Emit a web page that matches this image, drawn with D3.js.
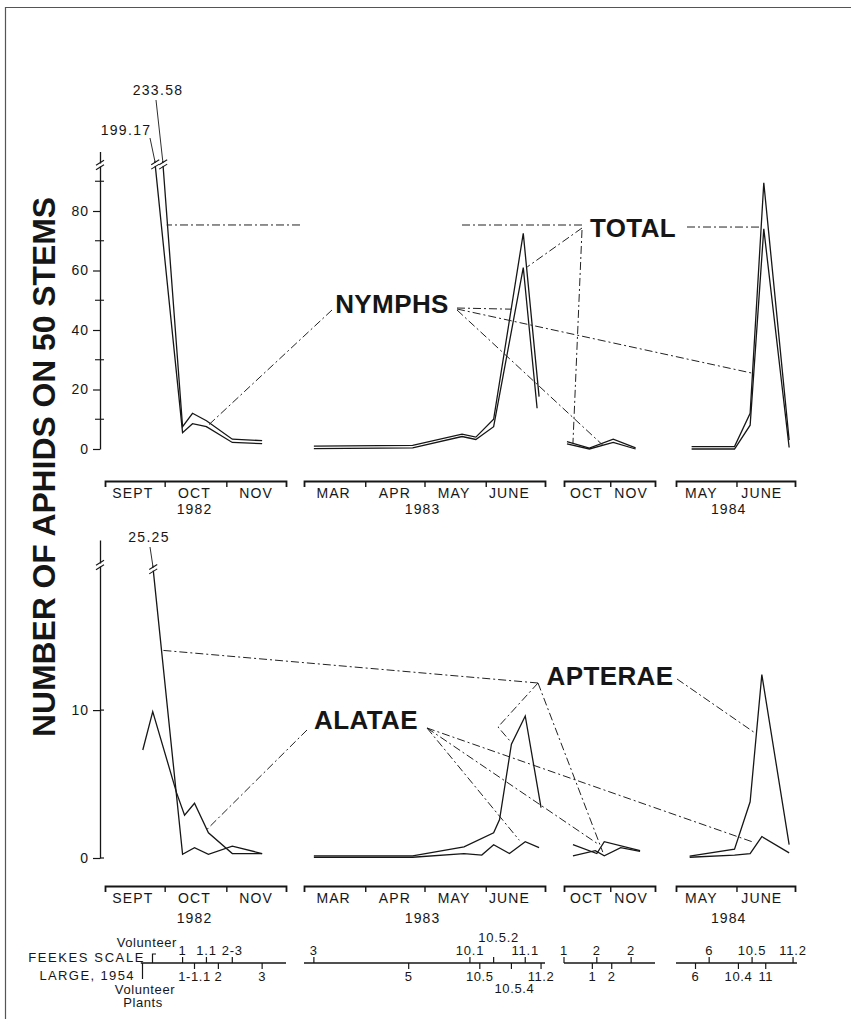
<!DOCTYPE html>
<html>
<head>
<meta charset="utf-8">
<script src="https://d3js.org/d3.v7.min.js"></script>
<style>
  html,body{margin:0;padding:0;background:#fff;}
  svg{display:block;}
  text{font-family:"Liberation Sans",Arial,Helvetica,sans-serif;fill:#161616;}
</style>
</head>
<body>
<svg id="chart" width="851" height="1019"></svg>
<script>
// ---------------- DATA ----------------
const segmentDates = [
  ["1982-09-01","1982-12-01"],
  ["1983-03-01","1983-07-01"],
  ["1983-10-01","1983-12-01"],
  ["1984-05-01","1984-07-01"]
];
const monthLabels = [
  [["SEPT","1982-09-15"],["OCT","1982-10-16"],["NOV","1982-11-16"]],
  [["MAR","1983-03-16"],["APR","1983-04-16"],["MAY","1983-05-16"],["JUNE","1983-06-13"]],
  [["OCT","1983-10-16"],["NOV","1983-11-15"]],
  [["MAY","1984-05-14"],["JUNE","1984-06-14"]]
];
const yearLabels = [["1982","1982-10-16",0],["1983","1983-04-30",1],["1984","1984-05-28",3]];

const topTicks = [0,20,40,60,80];
const topMinorTicks = [10,30,50,70,90];
const bottomTicks = [0,10];

// Top panel: TOTAL and NYMPHS (number of aphids on 50 stems), one list per season segment
const totalTop = [
  [["1982-09-30",233.58],["1982-10-10",7.5],["1982-10-15",12],["1982-10-22",9.5],["1982-11-04",3.3],["1982-11-19",2.8]],
  [["1983-03-06",1.0],["1983-04-25",1.2],["1983-05-20",5.0],["1983-05-27",4.0],["1983-06-05",10],["1983-06-20",72.5],["1983-06-28",17.6]],
  [["1983-10-03",2.5],["1983-10-18",0.3],["1983-11-03",3.3],["1983-11-18",0.4]],
  [["1984-05-09",0.8],["1984-05-31",0.8],["1984-06-08",12],["1984-06-15",89.5],["1984-06-28",3]]
];
const nymphsTop = [
  [["1982-09-26",199.17],["1982-10-10",5.5],["1982-10-15",8.5],["1982-10-22",7.5],["1982-11-04",2.2],["1982-11-19",1.8]],
  [["1983-03-06",0.1],["1983-04-25",0.4],["1983-05-20",4.2],["1983-05-27",3.2],["1983-06-05",7.5],["1983-06-20",61],["1983-06-27",13.7]],
  [["1983-10-03",1.7],["1983-10-18",0],["1983-11-03",2.2],["1983-11-18",0]],
  [["1984-05-09",0],["1984-05-31",0],["1984-06-08",8],["1984-06-15",74],["1984-06-28",0.5]]
];
// Bottom panel: APTERAE and ALATAE
const apteraeBottom = [
  [["1982-09-25",25.25],["1982-10-10",0.25],["1982-10-16",0.7],["1982-10-23",0.25],["1982-11-04",0.8],["1982-11-19",0.3]],
  [["1983-03-06",0.15],["1983-04-25",0.15],["1983-05-21",0.75],["1983-06-05",1.7],["1983-06-08",2.6],["1983-06-14",7.7],["1983-06-21",9.6],["1983-06-29",3.4]],
  [["1983-10-07",0.9],["1983-10-23",0.3],["1983-10-28",1.1],["1983-11-21",0.5]],
  [["1984-05-08",0.13],["1984-05-31",0.6],["1984-06-08",3.8],["1984-06-14",12.4],["1984-06-28",0.9]]
];
const alataeBottom = [
  [["1982-09-20",7.3],["1982-09-25",9.9],["1982-10-07",4.4],["1982-10-11",2.9],["1982-10-16",3.7],["1982-10-23",1.7],["1982-11-04",0.3],["1982-11-19",0.3]],
  [["1983-03-06",0.05],["1983-04-25",0.05],["1983-05-21",0.3],["1983-05-30",0.2],["1983-06-05",0.9],["1983-06-13",0.3],["1983-06-21",1.1],["1983-06-28",0.7]],
  [["1983-10-07",0.15],["1983-10-22",0.5],["1983-10-28",0.15],["1983-11-08",0.7],["1983-11-21",0.45]],
  [["1984-05-08",0.05],["1984-05-31",0.2],["1984-06-08",0.3],["1984-06-14",1.45],["1984-06-28",0.35]]
];

// Feekes scale (growth stages) by date
const feekesSpan = [["1982-09-19","1982-12-01"],["1983-03-01","1983-07-01"],["1983-10-01","1983-12-01"],["1984-05-01","1984-07-02"]];
const feekesUpper = [
  [["1","1982-10-10"],["1.1","1982-10-22"],["2-3","1982-11-04"]],
  [["3","1983-03-06"],["10.1","1983-05-24"],["10.5.2","1983-06-05"],["11.1","1983-06-21"]],
  [["1","1983-10-01"],["2","1983-10-23"],["2","1983-11-15"]],
  [["6","1984-05-18"],["10.5","1984-06-09"],["11.2","1984-06-30"]]
];
const feekesLower = [
  [["1-1.1","1982-10-16"],["2","1982-10-28"],["3","1982-11-19"]],
  [["5","1983-04-23"],["10.5","1983-05-29"],["10.5.4","1983-06-14"],["11.2","1983-06-29"]],
  [["1","1983-10-20"],["2","1983-11-02"]],
  [["6","1984-05-11"],["10.4","1984-06-02"],["11","1984-06-16"]]
];

// ---------------- LAYOUT / DRAWING ----------------
const svg = d3.select("#chart");
const parse = d3.utcParse("%Y-%m-%d");
const INK = "#161616";
const segRanges = [[105,286],[304,545],[564,655],[676,795]];
const xs = segmentDates.map((d,i)=>d3.scaleUtc().domain(d.map(parse)).range(segRanges[i]));
const yTop = d3.scaleLinear().domain([0,100]).range([449,151.5]);
const yBot = d3.scaleLinear().domain([0,21.5]).range([858,540]);
const topBreak = 97, botBreak = 19.8;

// frame
svg.append("path").attr("d","M5.5,1019V7.5H851").attr("fill","none").attr("stroke","#555").attr("stroke-width",1.2);

// y-axis title
svg.append("text").attr("transform","translate(55,467) rotate(-90)")
  .attr("text-anchor","middle").attr("font-size",31).attr("font-weight","bold")
  .attr("textLength",540).attr("lengthAdjust","spacingAndGlyphs")
  .text("NUMBER OF APHIDS ON 50 STEMS");

// x axes
function drawXAxes(axisY, yearDy){
  xs.forEach((x,i)=>{
    const inner = d3.utcMonth.range(...x.domain()).slice(1);
    const ax = d3.axisBottom(x).tickValues(inner).tickSize(6).tickSizeOuter(6).tickFormat("");
    const g = svg.append("g").attr("transform",`translate(0,${axisY})`).call(ax);
    g.select(".domain").attr("stroke",INK).attr("stroke-width",1.8);
    g.selectAll(".tick line").attr("stroke",INK).attr("stroke-width",1.4);
    monthLabels[i].forEach(([t,d])=>{
      svg.append("text").attr("x",x(parse(d))).attr("y",axisY+17)
        .attr("text-anchor","middle").attr("font-size",14).attr("letter-spacing",1.1).text(t);
    });
  });
  yearLabels.forEach(([t,d,i])=>{
    svg.append("text").attr("x",xs[i](parse(d))).attr("y",axisY+yearDy)
      .attr("text-anchor","middle").attr("font-size",14).attr("letter-spacing",1.1).text(t);
  });
}
drawXAxes(481,33);
drawXAxes(886,37);

// y axes
function styleY(g){
  g.select(".domain").attr("stroke",INK).attr("stroke-width",1.3);
  g.selectAll(".tick line").attr("stroke",INK).attr("stroke-width",1.2);
  g.selectAll(".tick text").attr("font-size",14).attr("letter-spacing",1)
    .attr("font-family",'"Liberation Sans",Arial,sans-serif').attr("fill",INK);
}
const gyT = svg.append("g").attr("transform","translate(100,0)")
  .call(d3.axisLeft(yTop).tickValues(topTicks).tickSize(7).tickSizeOuter(0).tickPadding(4));
styleY(gyT);
svg.selectAll(null).data(topMinorTicks).enter().append("line")
  .attr("x1",95).attr("x2",104).attr("y1",d=>yTop(d)).attr("y2",d=>yTop(d))
  .attr("stroke",INK).attr("stroke-width",1.1);

const gyB = svg.append("g").attr("transform","translate(100,0)")
  .call(d3.axisLeft(yBot).tickValues(bottomTicks).tickSize(7).tickSizeOuter(0).tickPadding(4));
styleY(gyB);
svg.selectAll(null).data(bottomTicks).enter().append("line")
  .attr("x1",100).attr("x2",104).attr("y1",d=>yBot(d)).attr("y2",d=>yBot(d))
  .attr("stroke",INK).attr("stroke-width",1.2);

// break marks
function breakMark(x,y){
  svg.append("rect").attr("x",x-4).attr("y",y-1.5).attr("width",8).attr("height",3).attr("fill","#fff");
  [-2.2,2.2].forEach(o=>{
    svg.append("line").attr("x1",x-4).attr("y1",y+o+2.5).attr("x2",x+4).attr("y2",y+o-2.5)
      .attr("stroke",INK).attr("stroke-width",1.1);
  });
}
breakMark(100,165);
breakMark(100,565);

// data lines
function drawSeries(series,y,brk){
  series.forEach((pts,i)=>{
    const line = d3.line().x(p=>xs[i](parse(p[0]))).y(p=>y(Math.min(p[1],brk)));
    svg.append("path").attr("d",line(pts)).attr("fill","none")
      .attr("stroke",INK).attr("stroke-width",1.3).attr("stroke-linejoin","miter");
  });
}
drawSeries(totalTop,yTop,topBreak);
drawSeries(nymphsTop,yTop,topBreak);
drawSeries(apteraeBottom,yBot,botBreak);
drawSeries(alataeBottom,yBot,botBreak);

// broken-off values with labels
function offScale(series,y,brk,lab){
  const p = series[0].find(q=>q[1]>brk);
  const x = xs[0](parse(p[0])), yy = y(brk);
  svg.append("line").attr("x1",x).attr("y1",yy).attr("x2",lab.tx).attr("y2",lab.ty)
    .attr("stroke",INK).attr("stroke-width",0.9);
  breakMark(x+0.5,yy+4);
  svg.append("text").attr("x",lab.x).attr("y",lab.y).attr("text-anchor","middle")
    .attr("font-size",14).attr("letter-spacing",1.3).text(p[1].toFixed(2));
}
offScale(nymphsTop,yTop,topBreak,{x:126,y:135,tx:150,ty:138});
offScale(totalTop,yTop,topBreak,{x:158,y:95,tx:156,ty:100});
offScale(apteraeBottom,yBot,botBreak,{x:149,y:542,tx:150,ty:547});

// series labels
const bigLabels = [["TOTAL",633,237],["NYMPHS",392,313],["APTERAE",610,685],["ALATAE",366,729]];
bigLabels.forEach(([t,x,y])=>{
  svg.append("text").attr("x",x).attr("y",y).attr("text-anchor","middle")
    .attr("font-size",26).attr("font-weight","bold").attr("letter-spacing",0.4).text(t);
});

// leader lines (start at label, end on a point of a series)
const leaders = [
  {p:"t",from:[582,225],to:[0,"1982-10-02",75.3],gap:[300,462]},
  {p:"t",from:[582,228],to:[1,"1983-06-22",61.2]},
  {p:"t",from:[582,230],to:[2,"1983-10-07",2]},
  {p:"t",from:[687,227],to:[3,"1984-06-13",74.6]},
  {p:"t",from:[457,308],to:[1,"1983-06-14",47]},
  {p:"t",from:[457,309],to:[3,"1984-06-09",25.5]},
  {p:"t",from:[457,310],to:[2,"1983-10-27",1.3]},
  {p:"t",from:[332,310],to:[0,"1982-10-22",7.4]},
  {p:"b",from:[538,683],to:[0,"1982-09-29",14.05]},
  {p:"b",from:[538,683],via:[498,727],to:[1,"1983-06-14",7.8]},
  {p:"b",from:[538,683],to:[2,"1983-10-27",0.4]},
  {p:"b",from:[677,679],to:[3,"1984-06-10",8.5]},
  {p:"b",from:[427,728],to:[3,"1984-06-09",1.1]},
  {p:"b",from:[427,728],to:[2,"1983-10-23",1.0]},
  {p:"b",from:[427,728],to:[1,"1983-06-18",1.2]},
  {p:"b",from:[307,730],to:[0,"1982-10-22",1.9]}
];
leaders.forEach(l=>{
  const y = l.p==="t"?yTop:yBot;
  const tx = xs[l.to[0]](parse(l.to[1])), ty = y(l.to[2]);
  const pts = [l.from];
  if(l.via) pts.push(l.via);
  pts.push([tx,ty]);
  const draw = (a)=>svg.append("path").attr("d",d3.line()(a)).attr("fill","none")
    .attr("stroke","#222").attr("stroke-width",1).attr("stroke-dasharray","8,3,2,3");
  if(l.gap){
    draw([[l.from[0],l.from[1]],[l.gap[1],l.from[1]]]);
    draw([[l.gap[0],ty],[tx,ty]]);
  } else draw(pts);
});

// Feekes scale
const fY = 963;
feekesSpan.forEach((sp,i)=>{
  const x = xs[i];
  svg.append("line").attr("x1",x(parse(sp[0]))).attr("x2",x(parse(sp[1])))
    .attr("y1",fY).attr("y2",fY).attr("stroke",INK).attr("stroke-width",1.6);
  feekesUpper[i].forEach(([t,d])=>{
    const xx = x(parse(d));
    svg.append("line").attr("x1",xx).attr("x2",xx).attr("y1",fY).attr("y2",fY-6).attr("stroke",INK).attr("stroke-width",1.2);
    const raise = t==="10.5.2"?13:0, dx = t==="10.5.2"?5:0;
    svg.append("text").attr("x",xx+dx).attr("y",fY-8-raise).attr("text-anchor","middle")
      .attr("font-size",13).attr("letter-spacing",0.8).text(t);
  });
  feekesLower[i].forEach(([t,d])=>{
    const xx = x(parse(d));
    svg.append("line").attr("x1",xx).attr("x2",xx).attr("y1",fY).attr("y2",fY+6).attr("stroke",INK).attr("stroke-width",1.2);
    const drop = t==="10.5.4"?12:0, dx = t==="10.5.4"?3:0;
    svg.append("text").attr("x",xx+dx).attr("y",fY+18+drop).attr("text-anchor","middle")
      .attr("font-size",13).attr("letter-spacing",0.6).text(t);
  });
});
// left brackets of the Feekes scale
svg.append("path").attr("d",`M156,954H152.5V${fY}`).attr("fill","none").attr("stroke",INK).attr("stroke-width",1.2);
svg.append("path").attr("d",`M142.5,${fY}V979`).attr("fill","none").attr("stroke",INK).attr("stroke-width",1.2);
const sideLabels = [
  ["Volunteer",177,947,"end",0.6],
  ["FEEKES SCALE",145,962,"end",1.6],
  ["LARGE, 1954",135,980,"end",1.4],
  ["Volunteer",145,994,"middle",0.6],
  ["Plants",143,1007,"middle",0.6]
];
sideLabels.forEach(([t,x,y,a,ls])=>{
  svg.append("text").attr("x",x).attr("y",y).attr("text-anchor",a)
    .attr("font-size",13).attr("letter-spacing",ls).text(t);
});
</script>
</body>
</html>
